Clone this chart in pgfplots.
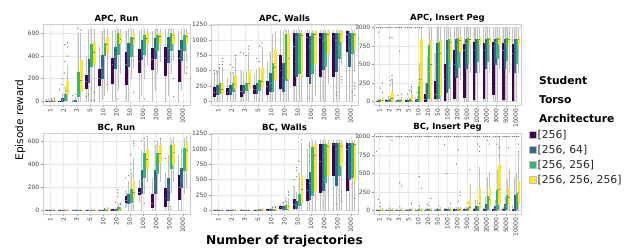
\documentclass[border=0pt]{standalone}
\usepackage{fontspec}
\setmainfont{DejaVu Sans}
\usepackage{pgfplots}
\pgfplotsset{compat=1.18}
\usepgfplotslibrary{statistics}
\definecolor{c1}{HTML}{440154}
\definecolor{c2}{HTML}{31688E}
\definecolor{c3}{HTML}{35B779}
\definecolor{c4}{HTML}{FDE725}
\newcommand\bx[7]{%
 \pgfmathsetmacro\bxpos{#2}%
 \edef\bxtmp{\noexpand\addplot[forget plot, fill=#1, draw=#1, line width=0.3pt,
   boxplot prepared={draw direction=y, draw position=\bxpos, lower whisker=#3, lower quartile=#4,
   median=#5, upper quartile=#6, upper whisker=#7, box extend=0.14, whisker extend=0.06}]
   coordinates {};}%
 \bxtmp}
\newcommand\C[5]{\bx{c1}{#1-0.3}#2\bx{c2}{#1-0.1}#3\bx{c3}{#1+0.1}#4\bx{c4}{#1+0.3}#5}
\pgfplotsset{
 panel/.style={
  scale only axis, width=147pt, height=81pt,
  axis line style={draw=black!20},
  xmajorgrids, ymajorgrids, grid style={draw=black!9, line width=0.4pt},
  tick style={draw=black!40, line width=0.4pt}, major tick length=2pt, tick align=outside,
  xtick pos=bottom, ytick pos=left,
  tick label style={font=\fontsize{6}{7}\selectfont, text=black!75},
  xticklabel style={rotate=90, anchor=east, inner sep=1.5pt},
  yticklabel style={inner sep=1.5pt},
  /pgf/number format/assume math mode=true,
  /pgf/number format/1000 sep={},
  title style={font=\bfseries\fontsize{8.5}{10}\selectfont, inner sep=1.5pt, yshift=-6pt},
  boxplot/draw direction=y,
  boxplot/every whisker/.style={draw=black!25, line width=0.5pt},
  boxplot/every median/.style={draw=black!50, line width=0.5pt},
 },
 c11/.style={xmin=-0.55, xmax=10.55, xtick={0,...,10},
  xticklabels={1,2,3,5,10,20,50,100,200,500,1000}},
 c15/.style={xmin=-0.55, xmax=14.55, xtick={0,...,14},
  xticklabels={1,2,3,5,10,20,50,100,200,500,1000,2000,3000,5000,10000}},
 fl/.style={only marks, mark=*, mark size=0.35pt, draw=black!55, fill=black!55, forget plot},
}
\begin{document}
\begin{tikzpicture}
\path[use as bounding box] (0pt,0pt) rectangle (640pt,249pt);
% ---------------- APC, Run
\begin{axis}[panel, c11, at={(43pt,144pt)}, anchor=south west, title={APC, Run},
  ymin=-32, ymax=682, ytick={0,200,400,600},
  ylabel={Episode reward},
  ylabel style={at={(axis description cs:-0.155,-0.185)}, anchor=center, font=\fontsize{10.5}{12}\selectfont}]
\C{0}{{0}{0}{1}{3}{8}}{{0}{0}{2}{5}{12}}{{0}{1}{3}{8}{20}}{{0}{2}{5}{12}{30}}
\C{1}{{0}{0}{2}{5}{12}}{{0}{3}{10}{30}{70}}{{0}{15}{30}{60}{130}}{{0}{75}{100}{175}{320}}
\C{2}{{0}{0}{2}{6}{15}}{{0}{2}{8}{15}{35}}{{0}{45}{120}{260}{600}}{{0}{90}{190}{365}{600}}
\C{3}{{0}{120}{180}{235}{400}}{{0}{170}{250}{370}{630}}{{0}{310}{400}{500}{640}}{{0}{330}{430}{520}{640}}
\C{4}{{0}{140}{200}{280}{480}}{{20}{205}{300}{410}{620}}{{50}{410}{460}{510}{640}}{{100}{425}{500}{570}{640}}
\C{5}{{0}{160}{330}{380}{620}}{{0}{290}{400}{480}{630}}{{100}{420}{540}{600}{640}}{{250}{510}{550}{600}{640}}
\C{6}{{0}{150}{330}{430}{620}}{{0}{310}{420}{510}{640}}{{200}{400}{520}{570}{640}}{{300}{510}{560}{600}{640}}
\C{7}{{0}{260}{350}{460}{620}}{{50}{370}{450}{540}{640}}{{200}{420}{530}{585}{640}}{{330}{510}{560}{600}{640}}
\C{8}{{0}{280}{370}{470}{620}}{{100}{380}{470}{555}{640}}{{250}{450}{540}{585}{640}}{{350}{510}{570}{600}{640}}
\C{9}{{0}{235}{380}{480}{630}}{{50}{350}{470}{570}{640}}{{250}{450}{540}{600}{640}}{{360}{510}{580}{600}{640}}
\C{10}{{0}{175}{380}{455}{620}}{{100}{365}{460}{540}{640}}{{250}{450}{540}{585}{640}}{{350}{510}{570}{600}{640}}
\addplot[fl] coordinates {(1.1,500)(1.3,520)(1.3,480)(1.3,400)(1.1,350)(0.9,200)(0.9,150)(1.1,250)(0.7,100)
 (0.3,30)(0.1,25)(-0.1,20)(-0.3,15)(2.1,640)(2.3,630)(1.7,50)(1.9,60)(9.3,200)(9.3,40)(10.3,300)(10.3,250)
 (3.3,80)(4.3,150)(5.1,20)(6.3,80)(7.1,20)(3.1,10)(3.3,10)(2.7,40)(2.9,60)};
\end{axis}
% ---------------- APC, Walls
\begin{axis}[panel, c11, at={(211pt,144pt)}, anchor=south west, title={APC, Walls},
  ymin=-60, ymax=1262, ytick={0,250,500,750,1000,1250}]
\C{0}{{0}{80}{150}{235}{450}}{{0}{110}{170}{270}{500}}{{0}{135}{190}{300}{560}}{{0}{135}{200}{300}{560}}
\C{1}{{0}{110}{150}{220}{380}}{{0}{120}{180}{270}{480}}{{0}{160}{220}{300}{480}}{{0}{215}{280}{410}{700}}
\C{2}{{0}{80}{160}{270}{500}}{{0}{135}{190}{270}{480}}{{0}{190}{230}{300}{480}}{{0}{215}{300}{490}{800}}
\C{3}{{0}{135}{200}{270}{450}}{{0}{135}{200}{300}{520}}{{0}{190}{270}{350}{560}}{{0}{245}{330}{540}{900}}
\C{4}{{0}{110}{240}{330}{650}}{{0}{160}{300}{460}{800}}{{0}{160}{420}{625}{1100}}{{0}{350}{560}{840}{1150}}
\C{5}{{0}{215}{500}{760}{1150}}{{0}{160}{400}{625}{1150}}{{0}{350}{850}{1090}{1160}}{{0}{380}{700}{1090}{1160}}
\C{6}{{0}{270}{900}{1115}{1160}}{{0}{410}{1050}{1115}{1160}}{{0}{460}{1050}{1115}{1160}}{{0}{410}{1080}{1115}{1160}}
\C{7}{{0}{410}{1050}{1115}{1160}}{{0}{300}{900}{1060}{1160}}{{0}{460}{1050}{1115}{1160}}{{100}{625}{1090}{1140}{1160}}
\C{8}{{0}{410}{1050}{1115}{1160}}{{0}{520}{1000}{1115}{1160}}{{0}{570}{1050}{1115}{1160}}{{300}{790}{1090}{1140}{1160}}
\C{9}{{0}{410}{1060}{1115}{1160}}{{0}{490}{1000}{1115}{1160}}{{0}{700}{1050}{1115}{1160}}{{600}{980}{1090}{1140}{1160}}
\C{10}{{0}{815}{1100}{1140}{1160}}{{0}{570}{1050}{1115}{1160}}{{0}{790}{1080}{1115}{1160}}{{500}{840}{1090}{1115}{1160}}
\addplot[fl] coordinates {(-0.3,500)(-0.3,450)(0.1,600)(0.1,550)(0.3,700)(0.3,650)(0.3,600)(-0.1,480)
 (0.9,600)(1.1,550)(1.3,750)(1.3,700)(1.7,800)(1.9,780)(2.1,750)(2.3,900)(2.3,850)(2.9,700)(3.1,650)(3.3,950)(3.1,900)
 (9.3,400)(9.3,350)(9.3,300)(10.3,300)(10.3,250)(10.3,200)(10.3,100)(10.1,150)(8.9,150)(8.9,100)};
\end{axis}
% ---------------- APC, Insert Peg
\begin{axis}[panel, c15, at={(374pt,144pt)}, anchor=south west, title={APC, Insert Peg},
  ymin=-50, ymax=1050, ytick={0,250,500,750,1000}]
\C{0}{{0}{0}{2}{8}{20}}{{0}{0}{3}{10}{25}}{{0}{0}{5}{15}{35}}{{0}{2}{10}{25}{60}}
\C{1}{{0}{0}{3}{10}{25}}{{0}{0}{5}{15}{35}}{{0}{2}{10}{30}{70}}{{0}{10}{40}{120}{280}}
\C{2}{{0}{0}{2}{8}{20}}{{0}{0}{3}{10}{25}}{{0}{0}{5}{12}{30}}{{0}{2}{8}{20}{50}}
\C{3}{{0}{0}{3}{10}{25}}{{0}{0}{5}{15}{35}}{{0}{2}{8}{25}{60}}{{0}{5}{20}{80}{200}}
\C{4}{{0}{0}{5}{20}{50}}{{0}{2}{10}{30}{70}}{{0}{14}{60}{210}{520}}{{0}{20}{300}{850}{1000}}
\C{5}{{0}{0}{30}{100}{250}}{{0}{40}{100}{250}{600}}{{0}{40}{400}{760}{1000}}{{0}{40}{500}{830}{1000}}
\C{6}{{0}{40}{100}{270}{650}}{{0}{40}{500}{790}{1000}}{{0}{40}{600}{810}{1000}}{{0}{90}{650}{830}{1000}}
\C{7}{{0}{20}{300}{500}{1000}}{{0}{130}{700}{830}{1000}}{{0}{180}{750}{840}{1000}}{{0}{560}{800}{850}{1000}}
\C{8}{{0}{40}{500}{700}{1000}}{{0}{330}{780}{840}{1000}}{{0}{460}{800}{860}{1000}}{{300}{680}{830}{870}{1000}}
\C{9}{{0}{50}{700}{780}{1000}}{{0}{450}{790}{845}{1000}}{{0}{520}{810}{855}{1000}}{{400}{760}{840}{870}{1000}}
\C{10}{{0}{30}{700}{800}{1000}}{{0}{400}{780}{840}{1000}}{{0}{550}{800}{850}{1000}}{{400}{780}{840}{870}{1000}}
\C{11}{{0}{40}{700}{790}{1000}}{{0}{450}{790}{845}{1000}}{{0}{550}{810}{855}{1000}}{{400}{780}{840}{870}{1000}}
\C{12}{{0}{100}{750}{800}{1000}}{{0}{500}{800}{850}{1000}}{{0}{580}{820}{860}{1000}}{{450}{790}{845}{870}{1000}}
\C{13}{{0}{30}{700}{790}{1000}}{{0}{450}{790}{845}{1000}}{{0}{560}{810}{855}{1000}}{{400}{770}{840}{870}{1000}}
\C{14}{{0}{20}{650}{780}{1000}}{{0}{400}{780}{840}{1000}}{{0}{520}{800}{850}{1000}}{{400}{780}{840}{870}{1000}}
\addplot[fl] coordinates {(-0.3,1000)(-0.1,1000)(0.1,1000)(0.3,1000)(0.7,1000)(0.9,1000)(1.1,1000)(1.3,1000)
 (1.7,1000)(1.9,1000)(2.1,1000)(2.3,1000)(2.7,1000)(2.9,1000)(3.1,1000)(3.3,1000)(3.7,1000)(3.9,1000)(4.1,1000)(4.3,1000)
 (-0.1,940)(1.1,870)(1.3,860)(2.1,680)(1.3,350)(1.3,300)(1.1,280)(1.3,250)(1.1,220)(0.3,250)(0.1,180)(0.3,120)
 (3.3,200)(3.1,150)(3.3,130)(2.9,100)(4.1,250)(4.1,300)(3.9,120)(0.9,60)(1.9,80)(2.3,90)};
\end{axis}
% ---------------- BC, Run
\begin{axis}[panel, c11, at={(43pt,35pt)}, anchor=south west, title={BC, Run},
  ymin=-32, ymax=668, ytick={0,200,400,600}]
\C{0}{{0}{0}{1}{3}{6}}{{0}{0}{1}{3}{6}}{{0}{0}{1}{3}{6}}{{0}{0}{1}{3}{6}}
\C{1}{{0}{0}{1}{3}{6}}{{0}{0}{1}{3}{6}}{{0}{0}{1}{3}{6}}{{0}{0}{1}{3}{6}}
\C{2}{{0}{0}{1}{3}{6}}{{0}{0}{1}{3}{6}}{{0}{0}{1}{3}{6}}{{0}{0}{1}{3}{6}}
\C{3}{{0}{0}{1}{3}{6}}{{0}{0}{1}{3}{6}}{{0}{0}{1}{3}{6}}{{0}{0}{2}{4}{8}}
\C{4}{{0}{0}{1}{3}{8}}{{0}{0}{2}{4}{10}}{{0}{1}{3}{6}{12}}{{0}{1}{3}{6}{12}}
\C{5}{{0}{1}{3}{6}{12}}{{0}{2}{5}{10}{20}}{{0}{5}{12}{30}{60}}{{0}{2}{6}{12}{25}}
\C{6}{{30}{72}{90}{120}{170}}{{0}{58}{100}{140}{250}}{{0}{72}{130}{180}{330}}{{0}{115}{160}{260}{450}}
\C{7}{{80}{140}{160}{190}{260}}{{0}{145}{250}{345}{520}}{{150}{290}{370}{490}{600}}{{250}{360}{440}{520}{620}}
\C{8}{{0}{25}{60}{140}{280}}{{0}{145}{240}{350}{560}}{{150}{320}{400}{490}{600}}{{250}{420}{490}{560}{620}}
\C{9}{{0}{35}{100}{190}{330}}{{0}{85}{180}{275}{480}}{{150}{360}{440}{560}{620}}{{250}{400}{500}{575}{630}}
\C{10}{{0}{100}{200}{300}{480}}{{0}{200}{260}{360}{540}}{{150}{345}{440}{535}{620}}{{200}{345}{520}{590}{640}}
\addplot[fl] coordinates {(4.1,15)(4.3,20)(5.1,180)(5.1,150)(5.1,120)(4.9,70)(5.3,60)(5.3,50)
 (5.9,300)(6.1,400)(6.1,480)(6.3,560)(6.3,580)(6.1,350)(5.7,280)(6.3,600)(6.9,600)(7.3,640)(7.1,620)(7.1,60)
 (8.3,620)(7.9,600)(9.1,30)(8.7,450)(9.1,10)};
\end{axis}
% ---------------- BC, Walls
\begin{axis}[panel, c11, at={(211pt,35pt)}, anchor=south west, title={BC, Walls},
  ymin=-60, ymax=1262, ytick={0,250,500,750,1000,1250},
  xlabel={Number of trajectories},
  xlabel style={at={(axis description cs:0.5,0)}, anchor=center, yshift=-27pt, font=\bfseries\fontsize{12.2}{14}\selectfont}]
\C{0}{{0}{0}{5}{10}{20}}{{0}{0}{5}{10}{20}}{{0}{0}{5}{10}{20}}{{0}{0}{5}{10}{20}}
\C{1}{{0}{0}{5}{10}{20}}{{0}{0}{5}{10}{20}}{{0}{0}{5}{10}{20}}{{0}{0}{5}{10}{25}}
\C{2}{{0}{0}{5}{10}{20}}{{0}{0}{5}{10}{20}}{{0}{0}{5}{10}{20}}{{0}{0}{5}{10}{25}}
\C{3}{{0}{0}{5}{10}{20}}{{0}{0}{5}{10}{20}}{{0}{0}{5}{12}{25}}{{0}{0}{6}{15}{30}}
\C{4}{{0}{0}{5}{12}{25}}{{0}{0}{6}{15}{30}}{{0}{2}{8}{20}{40}}{{0}{2}{8}{20}{40}}
\C{5}{{0}{30}{45}{60}{100}}{{0}{20}{40}{70}{120}}{{0}{25}{50}{80}{150}}{{0}{35}{60}{90}{200}}
\C{6}{{0}{43}{100}{190}{400}}{{0}{30}{80}{150}{300}}{{0}{80}{160}{270}{600}}{{0}{135}{350}{570}{1100}}
\C{7}{{0}{160}{330}{515}{1000}}{{0}{190}{450}{620}{1100}}{{0}{245}{700}{1030}{1150}}{{0}{325}{900}{1080}{1150}}
\C{8}{{0}{300}{800}{1080}{1150}}{{0}{325}{900}{1080}{1150}}{{0}{460}{1000}{1080}{1150}}{{0}{570}{1050}{1100}{1150}}
\C{9}{{0}{570}{1080}{1100}{1150}}{{0}{410}{1000}{1100}{1150}}{{0}{570}{1050}{1100}{1150}}{{0}{730}{1050}{1100}{1150}}
\C{10}{{0}{325}{1000}{1100}{1150}}{{0}{515}{1050}{1100}{1150}}{{0}{540}{1050}{1100}{1150}}{{0}{490}{1080}{1100}{1150}}
\addplot[fl] coordinates {(4.1,50)(4.3,60)(4.3,45)(5.1,150)(5.1,200)(5.3,250)(5.3,300)(4.9,130)
 (5.7,500)(5.9,650)(5.9,700)(6.1,800)(5.9,550)(6.3,1150)(6.9,1050)(6.9,1100)(6.9,900)(6.9,800)
 (9.3,200)(9.3,300)(8.9,100)(9.3,150)(10.3,200)};
\end{axis}
% ---------------- BC, Insert Peg
\begin{axis}[panel, c15, at={(374pt,35pt)}, anchor=south west, title={BC, Insert Peg},
  ymin=-50, ymax=1050, ytick={0,250,500,750,1000},
  legend style={at={(axis description cs:1.055,1.05)}, anchor=north west, draw=none, fill=none,
    font=\fontsize{10.8}{12}\selectfont, inner sep=0pt, row sep=3.3pt,
    nodes={inner sep=1pt, text=black!85}},
  legend cell align=left,
  legend image code/.code={\draw[#1, draw=black!25, line width=0.3pt] (0pt,-3.5pt) rectangle (7pt,3.5pt);}]
\addlegendimage{fill=c1}\addlegendentry{[256]}
\addlegendimage{fill=c2}\addlegendentry{[256, 64]}
\addlegendimage{fill=c3}\addlegendentry{[256, 256]}
\addlegendimage{fill=c4}\addlegendentry{[256, 256, 256]}
\C{0}{{0}{0}{2}{8}{20}}{{0}{0}{2}{8}{20}}{{0}{0}{2}{8}{20}}{{0}{0}{3}{10}{25}}
\C{1}{{0}{0}{2}{8}{20}}{{0}{0}{2}{8}{20}}{{0}{0}{2}{8}{20}}{{0}{0}{3}{10}{25}}
\C{2}{{0}{0}{2}{8}{20}}{{0}{0}{2}{8}{20}}{{0}{0}{2}{8}{20}}{{0}{0}{3}{10}{25}}
\C{3}{{0}{0}{2}{8}{20}}{{0}{0}{2}{8}{20}}{{0}{0}{3}{10}{25}}{{0}{0}{3}{10}{25}}
\C{4}{{0}{0}{2}{8}{20}}{{0}{0}{2}{8}{20}}{{0}{0}{3}{10}{25}}{{0}{0}{3}{10}{25}}
\C{5}{{0}{0}{2}{8}{20}}{{0}{0}{3}{10}{25}}{{0}{0}{3}{10}{25}}{{0}{0}{3}{10}{25}}
\C{6}{{0}{0}{2}{8}{20}}{{0}{0}{3}{10}{25}}{{0}{0}{3}{10}{25}}{{0}{0}{5}{15}{35}}
\C{7}{{0}{0}{3}{10}{25}}{{0}{0}{3}{10}{25}}{{0}{0}{5}{15}{35}}{{0}{0}{5}{15}{35}}
\C{8}{{0}{0}{3}{10}{25}}{{0}{0}{5}{15}{35}}{{0}{0}{5}{15}{35}}{{0}{2}{8}{25}{60}}
\C{9}{{0}{0}{3}{10}{25}}{{0}{0}{5}{15}{35}}{{0}{2}{8}{25}{60}}{{0}{10}{40}{150}{350}}
\C{10}{{0}{0}{3}{10}{25}}{{0}{2}{15}{60}{140}}{{0}{2}{15}{60}{140}}{{0}{30}{100}{300}{580}}
\C{11}{{0}{0}{5}{15}{35}}{{0}{5}{30}{80}{190}}{{0}{15}{60}{190}{450}}{{0}{55}{150}{300}{520}}
\C{12}{{0}{0}{5}{15}{35}}{{0}{5}{30}{60}{140}}{{0}{10}{140}{280}{550}}{{0}{80}{280}{620}{1000}}
\C{13}{{0}{0}{5}{15}{35}}{{0}{10}{60}{80}{180}}{{0}{20}{100}{200}{420}}{{0}{80}{180}{300}{560}}
\C{14}{{0}{0}{8}{20}{50}}{{0}{0}{80}{200}{450}}{{0}{20}{100}{230}{500}}{{0}{100}{250}{390}{800}}
\addplot[fl] coordinates {(-0.3,1000)(-0.1,1000)(0.1,1000)(0.3,1000)(0.7,1000)(0.9,1000)(1.1,1000)(1.3,1000)
 (1.7,1000)(1.9,1000)(2.1,1000)(2.3,1000)(2.7,1000)(2.9,1000)(3.1,1000)(3.3,1000)(3.7,1000)(3.9,1000)(4.1,1000)(4.3,1000)
 (4.7,1000)(4.9,1000)(5.1,1000)(5.3,1000)(5.7,1000)(5.9,1000)(6.1,1000)(6.3,1000)(6.7,1000)(6.9,1000)(7.1,1000)(7.3,1000)
 (7.7,1000)(7.9,1000)(8.1,1000)(8.3,1000)(8.7,1000)(8.9,1000)(9.1,1000)(9.3,1000)(9.7,1000)(9.9,1000)(10.1,1000)(10.3,1000)
 (10.7,1000)(10.9,1000)(11.1,1000)(11.3,1000)(11.7,1000)(11.9,1000)(12.1,1000)(12.3,1000)(12.7,1000)(12.9,1000)(13.1,1000)(13.3,1000)
 (13.7,1000)(13.9,1000)(14.1,1000)(14.3,1000)
 (-0.3,800)(-0.1,150)(0.1,100)(1.3,950)(2.1,370)(2.3,330)(3.3,100)(4.1,460)(4.3,300)(4.9,80)(5.3,160)(6.7,890)(6.9,500)
 (7.9,630)(8.1,820)(8.3,250)(8.3,200)(9.3,550)(10.1,900)(10.3,870)(10.3,800)(11.1,950)(11.3,900)(12.1,900)(12.3,850)(12.3,750)
 (13.3,850)(14.3,900)(14.3,800)(0.1,50)(1.1,30)(2.1,50)(3.3,90)(4.1,60)(5.1,70)(6.1,60)(7.3,90)(8.1,120)(9.1,100)};
\end{axis}
% legend title
\node[anchor=west, inner sep=0pt, font=\bfseries\fontsize{10.7}{12}\selectfont] at (539pt,168pt) {Student};
\node[anchor=west, inner sep=0pt, font=\bfseries\fontsize{10.7}{12}\selectfont] at (539pt,149pt) {Torso};
\node[anchor=west, inner sep=0pt, font=\bfseries\fontsize{10.7}{12}\selectfont] at (539pt,130pt) {Architecture};
\end{tikzpicture}
\end{document}
